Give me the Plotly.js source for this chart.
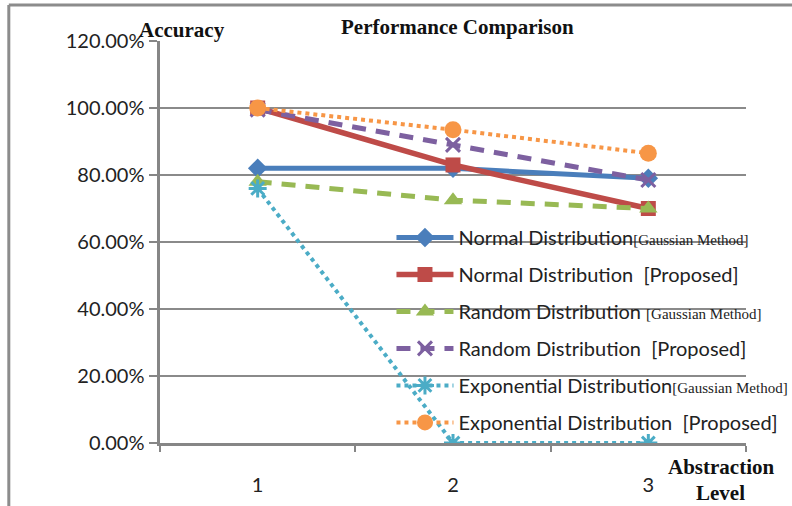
<!DOCTYPE html>
<html><head><meta charset="utf-8">
<script src="https://cdn.plot.ly/plotly-3.0.1.min.js"></script>
<style>body{margin:0;background:#fff}#chart{width:792px;height:506px}</style>
</head><body><div id="chart"></div>
<script>
const levels = ['1','2','3'];
const normalGaussian = [82, 82, 79];
const normalProposed = [100, 83, 70];
const randomGaussian = [78, 72.5, 70];
const randomProposed = [99.5, 89, 78.5];
const expGaussian = [76, 0, 0];
const expProposed = [100, 93.5, 86.5];
const yTicks = [0,20,40,60,80,100,120];
const yTickText = ['0.00%','20.00%','40.00%','60.00%','80.00%','100.00%','120.00%'];

const serif = "'Liberation Serif', 'Times New Roman', serif";
const sans = "Lato, 'Liberation Sans', sans-serif";
function nm(a, b){ return a + "<span style=\"font-family:'Liberation Serif';font-size:15px\">" + b + "</span>"; }

function tr(name, y, color, dash, width, symbol, msize, mline, grp){
  return {x: levels, y: y, name: name, type:'scatter', mode:'lines+markers', legendgroup: grp,
    line:{color: color, width: width, dash: dash},
    marker:{symbol: symbol, size: msize, color: color, line:{color: color, width: mline}}};
}
const data = [
  tr(nm('Normal Distribution','[Gaussian Method]'), normalGaussian, '#4A7EBB', 'solid', 5, 'diamond', 15, 0, 'a'),
  tr('Normal Distribution  [Proposed]', normalProposed, '#BE4B48', 'solid', 5.5, 'square', 15, 0, 'b'),
  tr(nm('Random Distribution ','[Gaussian Method]'), randomGaussian, '#98B954', '14px,10px', 5, 'triangle-up', 16, 0, 'c'),
  tr('Random Distribution  [Proposed]', randomProposed, '#7D60A0', '14px,10px', 5, 'x-thin-open', 14, 3, 'd'),
  tr(nm('Exponential Distribution','[Gaussian Method]'), expGaussian, '#4BACC6', 'dot', 4, 'asterisk-open', 15, 3, 'e'),
  tr('Exponential Distribution  [Proposed]', expProposed, '#F79646', 'dot', 4, 'circle', 17, 0, 'f')
];

const layout = {
  width:792, height:506,
  margin:{l:160, r:46, t:41, b:63, autoexpand:false},
  paper_bgcolor:'#fff', plot_bgcolor:'#fff',
  font:{family:sans, size:19, color:'#222'},
  showlegend:true,
  legend:{x:0.395, y:0.56, xanchor:'left', yanchor:'top', bgcolor:'rgba(0,0,0,0)',
    traceorder:'grouped', tracegroupgap:8, itemwidth:57,
    font:{family:sans, size:20, color:'#222'}},
  xaxis:{type:'category', categoryorder:'array', categoryarray:levels, range:[-0.5,2.5],
    tickson:'boundaries', ticks:'outside', ticklen:6, tickcolor:'#868686', tickwidth:2,
    showgrid:false, showline:true, linecolor:'#868686', linewidth:3, zeroline:false,
    ticklabelstandoff:22, tickfont:{family:sans, size:20, color:'#222'}},
  yaxis:{range:[0,120], tickvals:yTicks, ticktext:yTickText, ticks:'outside', ticklen:8,
    tickcolor:'#868686', tickwidth:2, showgrid:true, gridcolor:'#8a8a8a', gridwidth:2.5,
    showline:true, linecolor:'#868686', linewidth:3.5, zeroline:false,
    tickfont:{family:sans, size:20, color:'#222'}},
  annotations:[
    {text:'<b>Performance Comparison</b>', xref:'paper', yref:'paper', x:0.508, y:1.036, xanchor:'center', yanchor:'middle', showarrow:false, font:{family:serif, size:21, color:'#111'}},
    {text:'<b>Accuracy</b>', xref:'paper', yref:'paper', x:0.038, y:1.028, xanchor:'center', yanchor:'middle', showarrow:false, font:{family:serif, size:21, color:'#111'}},
    {text:'<b>Abstraction</b>', xref:'paper', yref:'paper', x:0.957, y:-0.06, xanchor:'center', yanchor:'middle', showarrow:false, font:{family:serif, size:21, color:'#111'}},
    {text:'<b>Level</b>', xref:'paper', yref:'paper', x:0.957, y:-0.124, xanchor:'center', yanchor:'middle', showarrow:false, font:{family:serif, size:21, color:'#111'}}
  ],
  shapes:[
    {type:'line', xref:'paper', yref:'paper', x0:-0.258, x1:1.1, y0:1.0896, y1:1.0896, line:{color:'#8c8c8c', width:3}, layer:'below'},
    {type:'line', xref:'paper', yref:'paper', x0:-0.258, x1:-0.258, y0:1.0896, y1:-0.2, line:{color:'#8c8c8c', width:3}, layer:'below'}
  ]
};
Plotly.newPlot('chart', data, layout, {displayModeBar:false, staticPlot:true});
</script>
</body></html>
